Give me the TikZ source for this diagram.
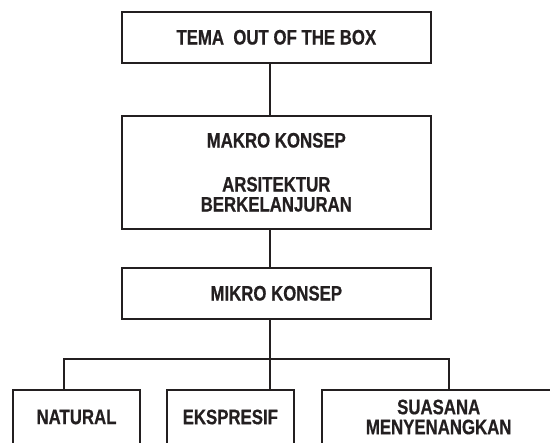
\documentclass[tikz,border=0pt]{standalone}
\usepackage{fontspec}
\newfontfamily\konsepfont{Liberation Sans Bold}[FakeStretch=0.8, FakeBold=0.6]
\usetikzlibrary{positioning}
\definecolor{ink}{HTML}{231F20}

\begin{document}
\begin{tikzpicture}[
    x=1pt, y=-1pt,
    konsep/.style={draw=ink, line width=2pt, text=ink, align=center, inner sep=0pt,
        font=\konsepfont\fontsize{21}{20}\selectfont},
    link/.style={draw=ink, line width=2pt}
]
    \useasboundingbox (0,0) rectangle (550,443);
    \clip (0,0) rectangle (550,443);

    % kotak utama
    \node[konsep, minimum width=309.3pt, minimum height=50.5pt] (tema) at (276.3,37.3) {TEMA\ \ OUT OF THE BOX};
    \node[konsep, minimum width=309.3pt, minimum height=113.3pt] (makro) at (276.3,172.3)
        {MAKRO KONSEP\\[24pt]ARSITEKTUR\\BERKELANJURAN};
    \node[konsep, minimum width=309.3pt, minimum height=51.3pt] (mikro) at (276.3,293.3) {MIKRO KONSEP};

    % kotak bawah
    \node[konsep, minimum width=127pt, minimum height=54pt] (natural) at (76.5,417) {NATURAL};
    \node[konsep, minimum width=127.3pt, minimum height=54pt] (ekspresif) at (230.3,417) {EKSPRESIF};
    \node[konsep, minimum width=234pt, minimum height=54pt] (suasana) at (438.7,417) {SUASANA\\MENYENANGKAN};

    % garis penghubung
    \coordinate (spine) at (270,359);
    \coordinate (barL) at (64,359);
    \coordinate (barR) at (449,359);
    \draw[link] (tema.south -| spine) -- (makro.north -| spine);
    \draw[link] (makro.south -| spine) -- (mikro.north -| spine);
    \draw[link] (mikro.south -| spine) -- (ekspresif.north -| spine);
    \draw[link] (natural.north -| barL) |- (barR) -- (suasana.north -| barR);
\end{tikzpicture}
\end{document}
